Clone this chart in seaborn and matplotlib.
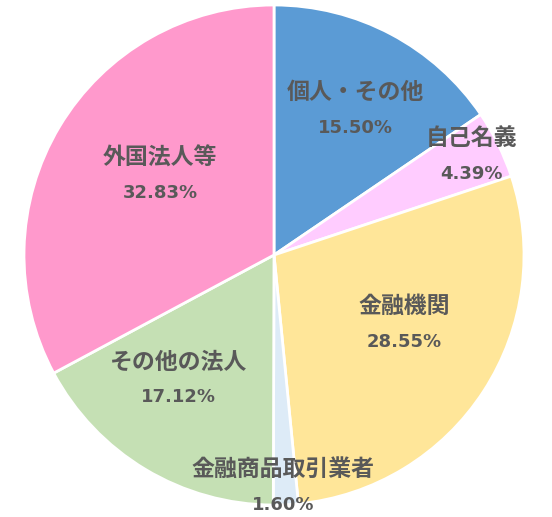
import matplotlib
matplotlib.use("Agg")
import numpy as np
import seaborn as sns
import matplotlib.pyplot as plt

# data
names = ["個人・その他", "自己名義", "金融機関", "金融商品取引業者", "その他の法人", "外国法人等"]
shares = [15.50, 4.39, 28.55, 1.60, 17.12, 32.83]
colors = ["#5B9BD5", "#FFCCFF", "#FFE699", "#DDEBF7", "#C5E0B4", "#FF99CC"]

# label placement: radial distance and angle nudge (deg) from wedge middle
label_dist = [0.664, 0.884, 0.59, 0.93, 0.627, 0.555]
label_shift = [-1.3, 0.3, 5.0, -0.4, -6.6, -3.9]

sns.set_theme(style="white")
plt.rcParams["font.family"] = ["Noto Sans CJK JP", "DejaVu Sans"]

fig = plt.figure(figsize=(5.52, 5.17), dpi=100)
ax = fig.add_axes([24 / 552, 12 / 517, 500 / 552, 500 / 517])

wedges, _ = ax.pie(shares, colors=sns.color_palette(colors), startangle=90,
                   counterclock=False, radius=1.0,
                   wedgeprops=dict(edgecolor="white", linewidth=2))

text_col = "#595959"
for w, name, val, d, s in zip(wedges, names, shares, label_dist, label_shift):
    mid = np.deg2rad((w.theta1 + w.theta2) / 2 + s)
    x, y = d * np.cos(mid), d * np.sin(mid)
    ax.text(x, y + 0.07, name, ha="center", va="center", fontsize=16.5,
            fontweight="bold", color=text_col)
    ax.text(x, y - 0.07, f"{val:.2f}%", ha="center", va="center", fontsize=13,
            fontweight="bold", color=text_col, family=["DejaVu Sans"])

ax.set_xlim(-1, 1)
ax.set_ylim(-1, 1)
ax.axis("off")

fig.savefig("out.png", dpi=100)
